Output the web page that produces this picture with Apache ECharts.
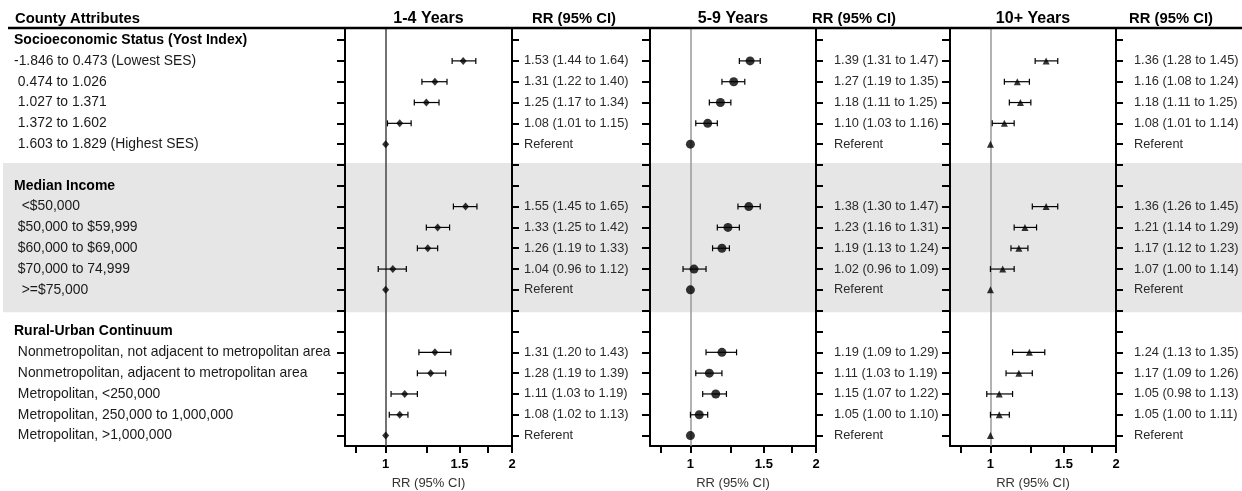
<!DOCTYPE html>
<html>
<head>
<meta charset="utf-8">
<script src="https://cdn.jsdelivr.net/npm/echarts@6/dist/echarts.min.js"></script>
<style>html,body{margin:0;padding:0;background:#fff}#c{width:1242px;height:491px}</style>
</head>
<body>
<div id="c"></div>
<script>
// ---- data ----
const rowLabels = [
  'Socioeconomic Status (Yost Index)',
  '-1.846 to 0.473 (Lowest SES)',
  ' 0.474 to 1.026',
  ' 1.027 to 1.371',
  ' 1.372 to 1.602',
  ' 1.603 to 1.829 (Highest SES)',
  '',
  'Median Income',
  '  <$50,000',
  ' $50,000 to $59,999',
  ' $60,000 to $69,000',
  ' $70,000 to 74,999',
  '  >=$75,000',
  '',
  'Rural-Urban Continuum',
  ' Nonmetropolitan, not adjacent to metropolitan area',
  ' Nonmetropolitan, adjacent to metropolitan area',
  ' Metropolitan, <250,000',
  ' Metropolitan, 250,000 to 1,000,000',
  ' Metropolitan, >1,000,000'
];
const headerRows = [0, 7, 14];
const panelTitles = ['1-4 Years', '5-9 Years', '10+ Years'];
const columnTitle = 'RR (95% CI)';
const xTickValues = [0.85, 1, 1.25, 1.5, 1.75, 2];
const xLabelValues = [1, 1.5, 2];

const rr14 = [null,1.53,1.31,1.25,1.08,1.00,null,null,1.55,1.33,1.26,1.04,1.00,null,null,1.31,1.28,1.11,1.08,1.00];
const lo14 = [null,1.44,1.22,1.17,1.01,null,null,null,1.45,1.25,1.19,0.96,null,null,null,1.20,1.19,1.03,1.02,null];
const hi14 = [null,1.64,1.40,1.34,1.15,null,null,null,1.65,1.42,1.33,1.12,null,null,null,1.43,1.39,1.19,1.13,null];

const rr59 = [null,1.39,1.27,1.18,1.10,1.00,null,null,1.38,1.23,1.19,1.02,1.00,null,null,1.19,1.11,1.15,1.05,1.00];
const lo59 = [null,1.31,1.19,1.11,1.03,null,null,null,1.30,1.16,1.13,0.96,null,null,null,1.09,1.03,1.07,1.00,null];
const hi59 = [null,1.47,1.35,1.25,1.16,null,null,null,1.47,1.31,1.24,1.09,null,null,null,1.29,1.19,1.22,1.10,null];

const rr10 = [null,1.36,1.16,1.18,1.08,1.00,null,null,1.36,1.21,1.17,1.07,1.00,null,null,1.24,1.17,1.05,1.05,1.00];
const lo10 = [null,1.28,1.08,1.11,1.01,null,null,null,1.26,1.14,1.12,1.00,null,null,null,1.13,1.09,0.98,1.00,null];
const hi10 = [null,1.45,1.24,1.25,1.14,null,null,null,1.45,1.29,1.23,1.14,null,null,null,1.35,1.26,1.13,1.11,null];

// ---- layout / style ----
const FONT = '"Liberation Sans", Arial, Helvetica, sans-serif';
const panels = [
  {rr: rr14, lo: lo14, hi: hi14, left: 345, width: 167, symbol: 'diamond', size: [7, 8], ref: '#444', margin: 12, rrCenter: 574},
  {rr: rr59, lo: lo59, hi: hi59, left: 650, width: 166, symbol: 'circle', size: 9, ref: '#999', margin: 18, rrCenter: 854},
  {rr: rr10, lo: lo10, hi: hi10, left: 950, width: 166, symbol: 'triangle', size: 7, ref: '#999', margin: 18, rrCenter: 1171}
];
const rowIdx = rowLabels.map((_, i) => i);
const yMin = -0.58, yMax = 19.5;
const bandRows = [5.9, 13.08];

function rrText(p, i) {
  if (p.rr[i] == null) return '';
  if (p.lo[i] == null) return 'Referent';
  return p.rr[i].toFixed(2) + ' (' + p.lo[i].toFixed(2) + ' to ' + p.hi[i].toFixed(2) + ')';
}

const grids = [], xAxes = [], yAxes = [], series = [];
panels.forEach((p, k) => {
  grids.push({left: p.left, width: p.width, top: 28, bottom: 45, containLabel: false, outerBoundsMode: 'none'});
  xAxes.push({
    type: 'log', logBase: 2, min: 0.8, max: 2, gridIndex: k,
    axisLine: {show: true, onZero: false, lineStyle: {color: '#000', width: 2}},
    axisTick: {show: true, customValues: xTickValues, length: 7, inside: false, lineStyle: {color: '#000', width: 2}},
    axisLabel: {customValues: xLabelValues, formatter: v => String(+(+v).toFixed(2)), fontFamily: FONT, fontWeight: 'bold', fontSize: 13, color: '#000', margin: 12},
    splitLine: {show: false}, minorTick: {show: false}, minorSplitLine: {show: false},
    name: columnTitle, nameLocation: 'middle', nameGap: 31,
    nameTextStyle: {fontFamily: FONT, fontSize: 13, color: '#333'}
  });
  yAxes.push({
    type: 'value', gridIndex: k, position: 'left', inverse: true, min: yMin, max: yMax,
    axisLine: {show: true, onZero: false, lineStyle: {color: '#000', width: 2}},
    axisTick: {show: true, customValues: rowIdx, length: 8, lineStyle: {color: '#000', width: 2}},
    axisLabel: {
      show: k === 0, customValues: rowIdx, align: 'left', margin: 331,
      formatter: v => headerRows.indexOf(v) >= 0 ? '{b|' + rowLabels[v] + '}' : rowLabels[v],
      fontFamily: FONT, fontSize: 13.9, color: '#1a1a1a',
      rich: {b: {fontFamily: FONT, fontSize: 14, fontWeight: 'bold', color: '#000'}}
    },
    splitLine: {show: false}
  });
  yAxes.push({
    type: 'value', gridIndex: k, position: 'right', inverse: true, min: yMin, max: yMax,
    axisLine: {show: true, onZero: false, lineStyle: {color: '#000', width: 2}},
    axisTick: {show: true, customValues: rowIdx, length: 7, lineStyle: {color: '#000', width: 2}},
    axisLabel: {
      show: true, customValues: rowIdx, align: 'left', margin: p.margin,
      formatter: v => rrText(p, v),
      fontFamily: FONT, fontSize: 12.8, color: '#2a2a2a'
    },
    splitLine: {show: false}
  });
  const pts = [], bars = [];
  p.rr.forEach((v, i) => {
    if (v != null) pts.push([v, i]);
    if (p.lo[i] != null) bars.push([i, p.lo[i], p.hi[i]]);
  });
  series.push({
    type: 'custom', xAxisIndex: k, yAxisIndex: k * 2, z: 3,
    encode: {x: [1, 2], y: 0},
    data: bars,
    renderItem: (params, api) => {
      const y = api.value(0);
      const a = api.coord([api.value(1), y]);
      const b = api.coord([api.value(2), y]);
      const h = 3;
      const st = {stroke: '#000', lineWidth: 1.2};
      return {type: 'group', children: [
        {type: 'line', shape: {x1: a[0], y1: a[1], x2: b[0], y2: b[1]}, style: st},
        {type: 'line', shape: {x1: a[0], y1: a[1] - h, x2: a[0], y2: a[1] + h}, style: st},
        {type: 'line', shape: {x1: b[0], y1: b[1] - h, x2: b[0], y2: b[1] + h}, style: st}
      ]};
    }
  });
  series.push({
    type: 'scatter', xAxisIndex: k, yAxisIndex: k * 2, z: 4,
    symbol: p.symbol, symbolSize: p.size,
    itemStyle: {color: '#000'},
    data: pts,
    markLine: {
      silent: true, symbol: 'none', z: 1,
      label: {show: false},
      lineStyle: {color: p.ref, width: 1.5, type: 'solid'},
      emphasis: {disabled: true},
      data: [{xAxis: 1}]
    }
  });
});

const chart = echarts.init(document.getElementById('c'), null, {renderer: 'canvas'});
chart.setOption({
  animation: false,
  backgroundColor: '#fff',
  grid: grids, xAxis: xAxes, yAxis: yAxes, series: series
});

// headers and band (band edges from the y scale)
const yTop = chart.convertToPixel({yAxisIndex: 0}, bandRows[0]);
const yBot = chart.convertToPixel({yAxisIndex: 0}, bandRows[1]);
const hdr = (text, x, align, size) => ({
  type: 'text', x: x, y: 19, z: 10,
  style: {text: text, fill: '#000', font: 'bold ' + size + 'px ' + FONT, align: align, textAlign: align, verticalAlign: 'middle', textVerticalAlign: 'middle'}
});
const graphics = [
  {type: 'rect', z: -10, shape: {x: 3, y: yTop, width: 1239, height: yBot - yTop}, style: {fill: '#e6e6e6'}},
  {type: 'line', z: 10, shape: {x1: 8, y1: 28, x2: 1242, y2: 28}, style: {stroke: '#000', lineWidth: 2.5}},
  hdr('County Attributes', 15, 'left', 14.8)
];
panels.forEach((p, k) => {
  graphics.push(hdr(panelTitles[k], p.left + p.width / 2, 'center', 16));
  graphics.push(hdr(columnTitle, p.rrCenter, 'center', 14.8));
});
chart.setOption({graphic: graphics});
</script>
</body>
</html>
